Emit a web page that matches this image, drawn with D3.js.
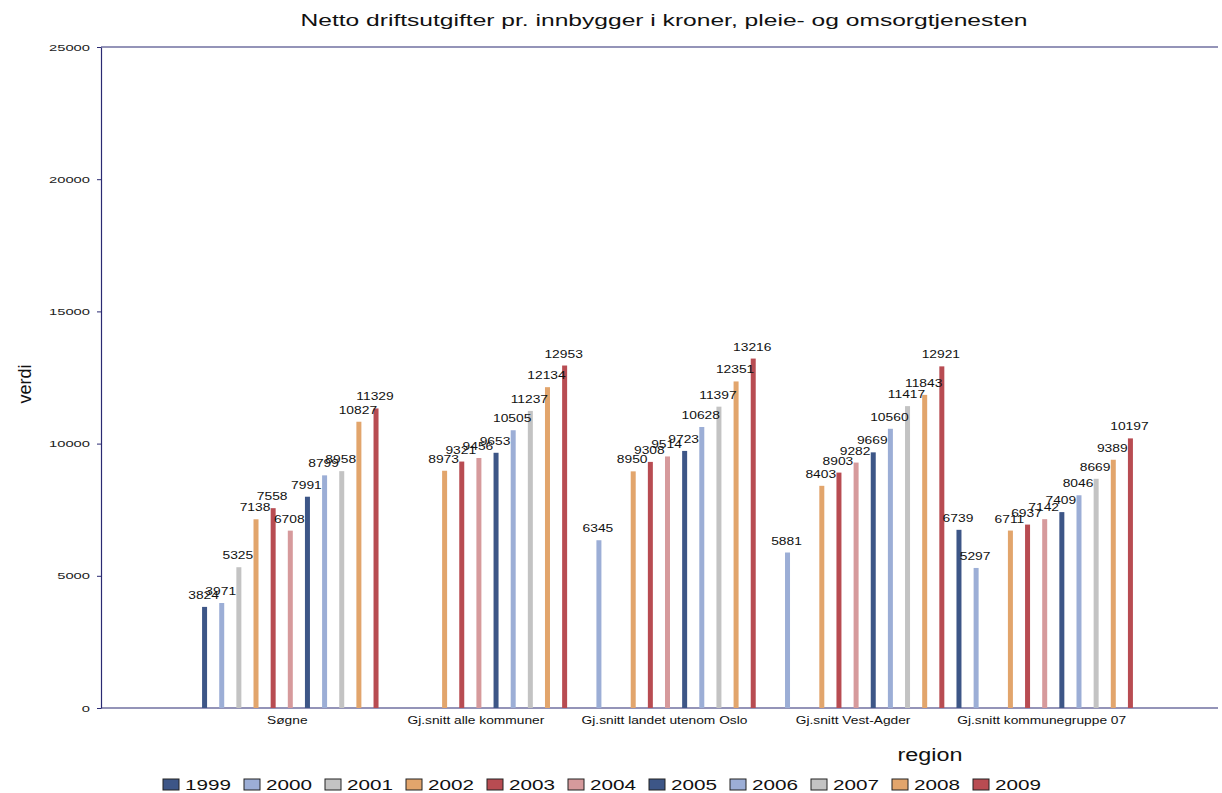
<!DOCTYPE html>
<html><head><meta charset="utf-8">
<script src="https://cdn.jsdelivr.net/npm/d3@7"></script>
<style>
body{margin:0;background:#fff;}
svg{display:block;font-family:"Liberation Sans",Arial,sans-serif;}
</style></head>
<body><svg id="c" width="1222" height="793"></svg>
<script>
const title = "Netto driftsutgifter pr. innbygger i kroner, pleie- og omsorgtjenesten";
const categories = ["Søgne","Gj.snitt alle kommuner","Gj.snitt landet utenom Oslo","Gj.snitt Vest-Agder","Gj.snitt kommunegruppe 07"];
const years = ["1999","2000","2001","2002","2003","2004","2005","2006","2007","2008","2009"];
const colors = ["#3d5687","#9caed6","#c3c3c3","#e2a56c","#b84c52","#d69a9c","#3d5687","#9caed6","#c3c3c3","#e2a56c","#b84c52"];
// values per category, in year order (null = missing)
const soegne        = [3824,3971,5325,7138,7558,6708,7991,8799,8958,10827,11329];
const alleKommuner  = [null,null,null,8973,9321,9456,9653,10505,11237,12134,12953];
const landetUtOslo  = [null,6345,null,8950,9308,9514,9723,10628,11397,12351,13216];
const vestAgder     = [null,5881,null,8403,8903,9282,9669,10560,11417,11843,12921];
const kommunegr07   = [6739,5297,null,6711,6937,7142,7409,8046,8669,9389,10197];
const yTicks = [0,5000,10000,15000,20000,25000];

const seriesByCat = [soegne, alleKommuner, landetUtOslo, vestAgder, kommunegr07];
const svg = d3.select("#c");
const L = 101, R = 1218, T = 47, B = 708;
const axisColor = "#2a2a72";

const y = d3.scaleLinear().domain([0,25000]).range([B,T]);
const x0 = d3.scaleBand().domain(categories).range([196,1139]).padding(0);
const x1 = d3.scaleBand().domain(years).range([0,x0.bandwidth()]).padding(0);

function stretch(sel, k){ sel.each(function(){ const w=this.getComputedTextLength(); d3.select(this).attr("textLength", w*k).attr("lengthAdjust","spacingAndGlyphs"); }); }

// frame
svg.append("line").attr("x1",L).attr("x2",R).attr("y1",T).attr("y2",T).attr("stroke",axisColor).attr("stroke-width",1.2);
svg.append("line").attr("x1",L).attr("x2",R).attr("y1",B).attr("y2",B).attr("stroke",axisColor).attr("stroke-width",1.2);

// y axis
const yAxis = svg.append("g").attr("transform",`translate(${L},0)`)
  .call(d3.axisLeft(y).tickValues(yTicks).tickFormat(d3.format("d")).tickSize(4).tickSizeOuter(0).tickPadding(7));
yAxis.select(".domain").attr("stroke",axisColor).attr("stroke-width",1.2);
yAxis.selectAll(".tick line").attr("stroke",axisColor);
yAxis.selectAll(".tick text").attr("font-size",9.5).attr("fill","#222").attr("font-family","'Liberation Sans',Arial,sans-serif").call(stretch,1.55);

// bars
const groups = svg.append("g").selectAll("g").data(categories).join("g")
  .attr("transform", d=>`translate(${x0(d)},0)`);
const bw = 5;
groups.each(function(cat, ci){
  const vals = seriesByCat[ci].map((v,i)=>({year:years[i], v, i})).filter(d=>d.v!=null);
  const g = d3.select(this);
  g.selectAll("rect").data(vals).join("rect")
    .attr("x", d=>x1(d.year)+x1.bandwidth()/2-bw/2)
    .attr("width", bw)
    .attr("y", d=>y(d.v))
    .attr("height", d=>B-y(d.v))
    .attr("fill", d=>colors[d.i]);
  g.selectAll("text").data(vals).join("text")
    .attr("x", d=>x1(d.year)+x1.bandwidth()/2-1)
    .attr("y", d=>y(d.v)-8)
    .attr("text-anchor","middle")
    .attr("font-size",11.5)
    .attr("fill","#111")
    .text(d=>d.v)
    .call(stretch,1.2);
});

// category labels
svg.append("g").selectAll("text").data(categories).join("text")
  .attr("x", d=>x0(d)+x0.bandwidth()/2-3)
  .attr("y", B+16)
  .attr("text-anchor","middle")
  .attr("font-size",11)
  .attr("fill","#111")
  .text(d=>d)
  .call(stretch,1.25);

// title
svg.append("text").attr("x",664).attr("y",26).attr("text-anchor","middle")
  .attr("font-size",16).attr("fill","#111").text(title).attr("textLength",727).attr("lengthAdjust","spacingAndGlyphs");

// axis titles
svg.append("text").attr("transform","translate(31,384) rotate(-90)").attr("text-anchor","middle")
  .attr("font-size",18).attr("fill","#111").text("verdi");
svg.append("text").attr("x",930).attr("y",761).attr("text-anchor","middle")
  .attr("font-size",18).attr("fill","#111").text("region").attr("textLength",65).attr("lengthAdjust","spacingAndGlyphs");

// legend
const leg = svg.append("g").selectAll("g").data(years).join("g")
  .attr("transform",(d,i)=>`translate(${163+i*81},779)`);
leg.append("rect").attr("width",16).attr("height",11).attr("fill",(d,i)=>colors[i]).attr("stroke","#222").attr("stroke-width",1);
leg.append("text").attr("x",22).attr("y",11).attr("font-size",14.5).attr("fill","#111").text(d=>d)
  .attr("textLength",46).attr("lengthAdjust","spacingAndGlyphs");
</script></body></html>
